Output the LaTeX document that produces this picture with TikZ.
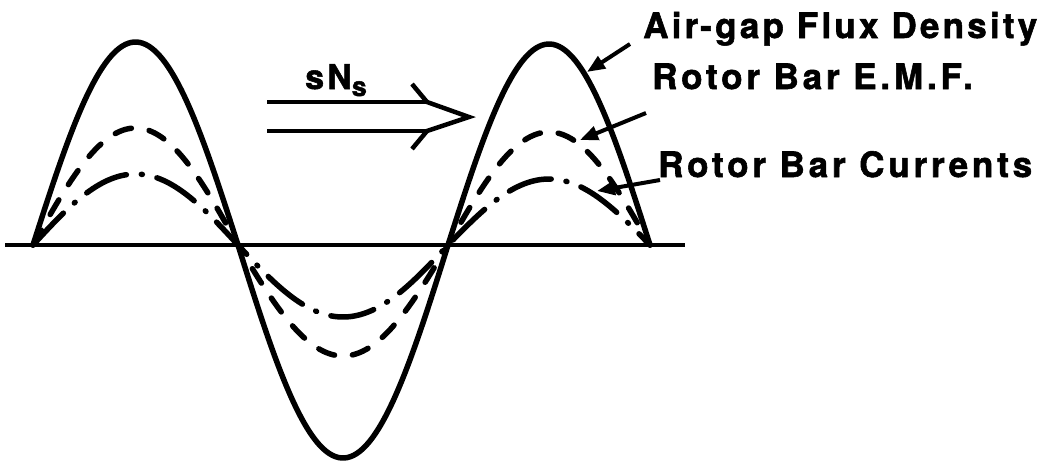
\documentclass[tikz,border=0pt]{standalone}
\usepackage{fontspec}
\setmainfont{TeX Gyre Heros}
\newfontfamily\lblfont[LetterSpace=9.2,FakeBold=1.6]{TeX Gyre Heros}
\newfontfamily\lblfontw[LetterSpace=11,FakeBold=1.6]{TeX Gyre Heros}
\usetikzlibrary{arrows.meta}
\begin{document}
\begin{tikzpicture}[x=1pt,y=-1pt,
  curve/.style={line width=5.5pt, line join=round, line cap=round},
  flux/.style={curve},
  emf/.style={curve, dash pattern=on 17pt off 18pt},
  cur/.style={curve, dash pattern=on 44pt off 15pt on 1pt off 15pt},
  axisline/.style={line width=4.5pt},
  lbl/.style={font=\fontsize{35}{40}\lblfont\bfseries, anchor=base west, inner sep=0pt},
  lblw/.style={font=\fontsize{35}{40}\lblfontw\bfseries, anchor=base west, inner sep=0pt},
  leader/.style={line width=4pt, -{Triangle[length=18pt,width=14pt]}},
  dirline/.style={line width=4.5pt, line join=miter},
]
\useasboundingbox (0,0) rectangle (1046,463);
% axis
\coordinate (axL) at (5,245);
\coordinate (axR) at (685,245);
\draw[axisline] (axL) -- (axR);
% air-gap flux density
\draw[flux] plot[domain=33:238, samples=70, smooth] (\x,{245-203*sin((\x-33)/205*180)})
  -- plot[domain=238:448, samples=70, smooth] (\x,{245+213*sin((\x-238)/210*180)})
  -- plot[domain=448:650, samples=70, smooth] (\x,{245-201*sin((\x-448)/202*180)});
% rotor bar emf
\draw[emf] plot[domain=33:238, samples=70, smooth] (\x,{245-117*sin((\x-33)/205*180)})
  -- plot[domain=238:448, samples=70, smooth] (\x,{245+111*sin((\x-238)/210*180)})
  -- plot[domain=448:650, samples=70, smooth] (\x,{245-113*sin((\x-448)/202*180)});
% rotor bar currents
\draw[cur] plot[domain=33:238, samples=70, smooth] (\x,{245-71*sin((\x-33)/205*180)})
  -- plot[domain=238:448, samples=70, smooth] (\x,{245+72*sin((\x-238)/210*180)})
  -- plot[domain=448:650, samples=70, smooth] (\x,{245-66*sin((\x-448)/202*180)});
% direction arrow
\coordinate (l1a) at (267,102);
\coordinate (l1b) at (427,102);
\coordinate (l2a) at (267,131);
\coordinate (l2b) at (427,131);
\coordinate (armT) at (412,84);
\coordinate (tip) at (469,117);
\coordinate (armB) at (412,149);
\draw[dirline] (l1a) -- (l1b);
\draw[dirline] (l2a) -- (l2b);
\draw[dirline] (armT) -- (l1b) -- (tip) -- (l2b) -- (armB);
\node[font=\fontsize{34}{36}\lblfont\bfseries, anchor=base west, inner sep=0pt] (sns) at (305,89)
  {sN\raisebox{-7pt}{\fontsize{27}{27}\lblfont\bfseries s}};
% labels
\node[lbl] (air) at (643,38) {Air-gap Flux Density};
\node[lblw] (emfl) at (652,89) {Rotor Bar E.M.F.};
\node[lblw] (curl) at (658,177) {Rotor Bar Currents};
% leader targets on the curves
\coordinate (airP) at (587,72);
\coordinate (emfP) at (580,140);
\coordinate (curP) at (597,191);
\draw[leader] ([shift={(-13,6)}]air.base west) -- (airP);
\draw[leader] ([shift={(-6,24)}]emfl.base west) -- (emfP);
\draw[leader] ([shift={(2,3)}]curl.base west) -- (curP);
\end{tikzpicture}
\end{document}
